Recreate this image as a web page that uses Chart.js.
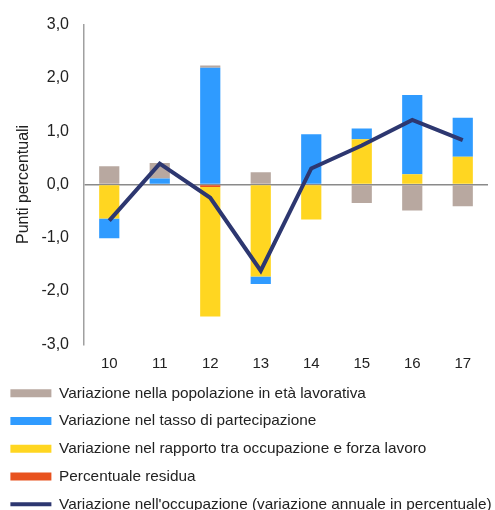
<!DOCTYPE html>
<html>
<head>
<meta charset="utf-8">
<script src="https://cdn.jsdelivr.net/npm/chart.js@4/dist/chart.umd.min.js"></script>
<style>
html,body{margin:0;padding:0;background:#fff;}
#wrap{width:495px;height:510px;position:relative;}
</style>
</head>
<body>
<div id="wrap"><canvas id="c" width="495" height="510"></canvas></div>
<script>
const categories = ["10","11","12","13","14","15","16","17"];
const popolazione = [0.34, 0.29, 0.04, 0.23, 0, -0.35, -0.49, -0.41];
const partecipazione = [-0.37, 0.11, 2.19, -0.14, 0.94, 0.20, 1.49, 0.73];
const rapporto = [-0.64, 0, -2.43, -1.73, -0.66, 0.85, 0.19, 0.52];
const residua = [0, 0, -0.05, 0, 0, 0, 0, 0];
const occupazione = [-0.68, 0.39, -0.25, -1.62, 0.30, 0.73, 1.21, 0.83];
const labels = [
  "Variazione nella popolazione in età lavorativa",
  "Variazione nel tasso di partecipazione",
  "Variazione nel rapporto tra occupazione e forza lavoro",
  "Percentuale residua",
  "Variazione nell'occupazione (variazione annuale in percentuale)"
];

const font = "'Liberation Sans', Arial, sans-serif";
const barCommon = {type:'bar', stack:'a', borderWidth:0, barPercentage:0.4, categoryPercentage:1, pointStyle:'rect', order:1};

const legendShift = {
  id:'legendShift',
  afterLayout(chart){
    const lg = chart.legend;
    if (lg) { lg.left -= 2; lg.right = 495; lg.width = lg.right - lg.left; }
  }
};

new Chart(document.getElementById('c'), {
  data: {
    labels: categories,
    datasets: [
      Object.assign({label: labels[3], data: residua, backgroundColor:'#E8521E'}, barCommon),
      Object.assign({label: labels[2], data: rapporto, backgroundColor:'#FFD621'}, barCommon),
      Object.assign({label: labels[1], data: partecipazione, backgroundColor:'#2F9BFF'}, barCommon),
      Object.assign({label: labels[0], data: popolazione, backgroundColor:'#B8A8A0'}, barCommon),
      {type:'line', label: labels[4], data: occupazione, stack:'line', borderColor:'#2D3770', backgroundColor:'#2D3770',
       borderWidth:4, pointRadius:0, tension:0, pointStyle:'line', order:0}
    ]
  },
  plugins:[legendShift],
  options: {
    responsive:false, animation:false,
    devicePixelRatio:1,
    layout:{padding:{top:19, right:7, left:0, bottom:-12}},
    plugins:{
      tooltip:{enabled:false},
      legend:{
        position:'bottom', align:'start',
        labels:{
          usePointStyle:true, pointStyleWidth:41, boxWidth:41, boxHeight:8,
          padding:12.4, color:'#222',
          font:{family:font, size:15.35},
          sort:(a,b)=>{
            const pos = [3,2,1,0,4];
            return pos[a.datasetIndex]-pos[b.datasetIndex];
          }
        }
      }
    },
    scales:{
      x:{
        stacked:true,
        afterFit:(s)=>{s.height = 29;},
        grid:{display:false, drawTicks:false},
        border:{display:false},
        ticks:{color:'#222', font:{family:font, size:15}, padding:11}
      },
      y:{
        stacked:true,
        min:-3, max:3,
        afterFit:(s)=>{s.width = 84;},
        ticks:{stepSize:1, color:'#222', font:{family:font, size:16}, padding:15,
          callback:(v)=>v.toFixed(1).replace('.',',')},
        grid:{drawTicks:false, color:(c)=> c.tick && c.tick.value===0 ? '#8a8a8a' : 'rgba(0,0,0,0)', lineWidth:1.5},
        border:{display:true, color:'#a0a0a0', width:1.5},
        title:{display:true, text:'Punti percentuali', color:'#222', font:{family:font, size:16}, padding:{top:14,bottom:0}}
      }
    }
  }
});
</script>
</body>
</html>
